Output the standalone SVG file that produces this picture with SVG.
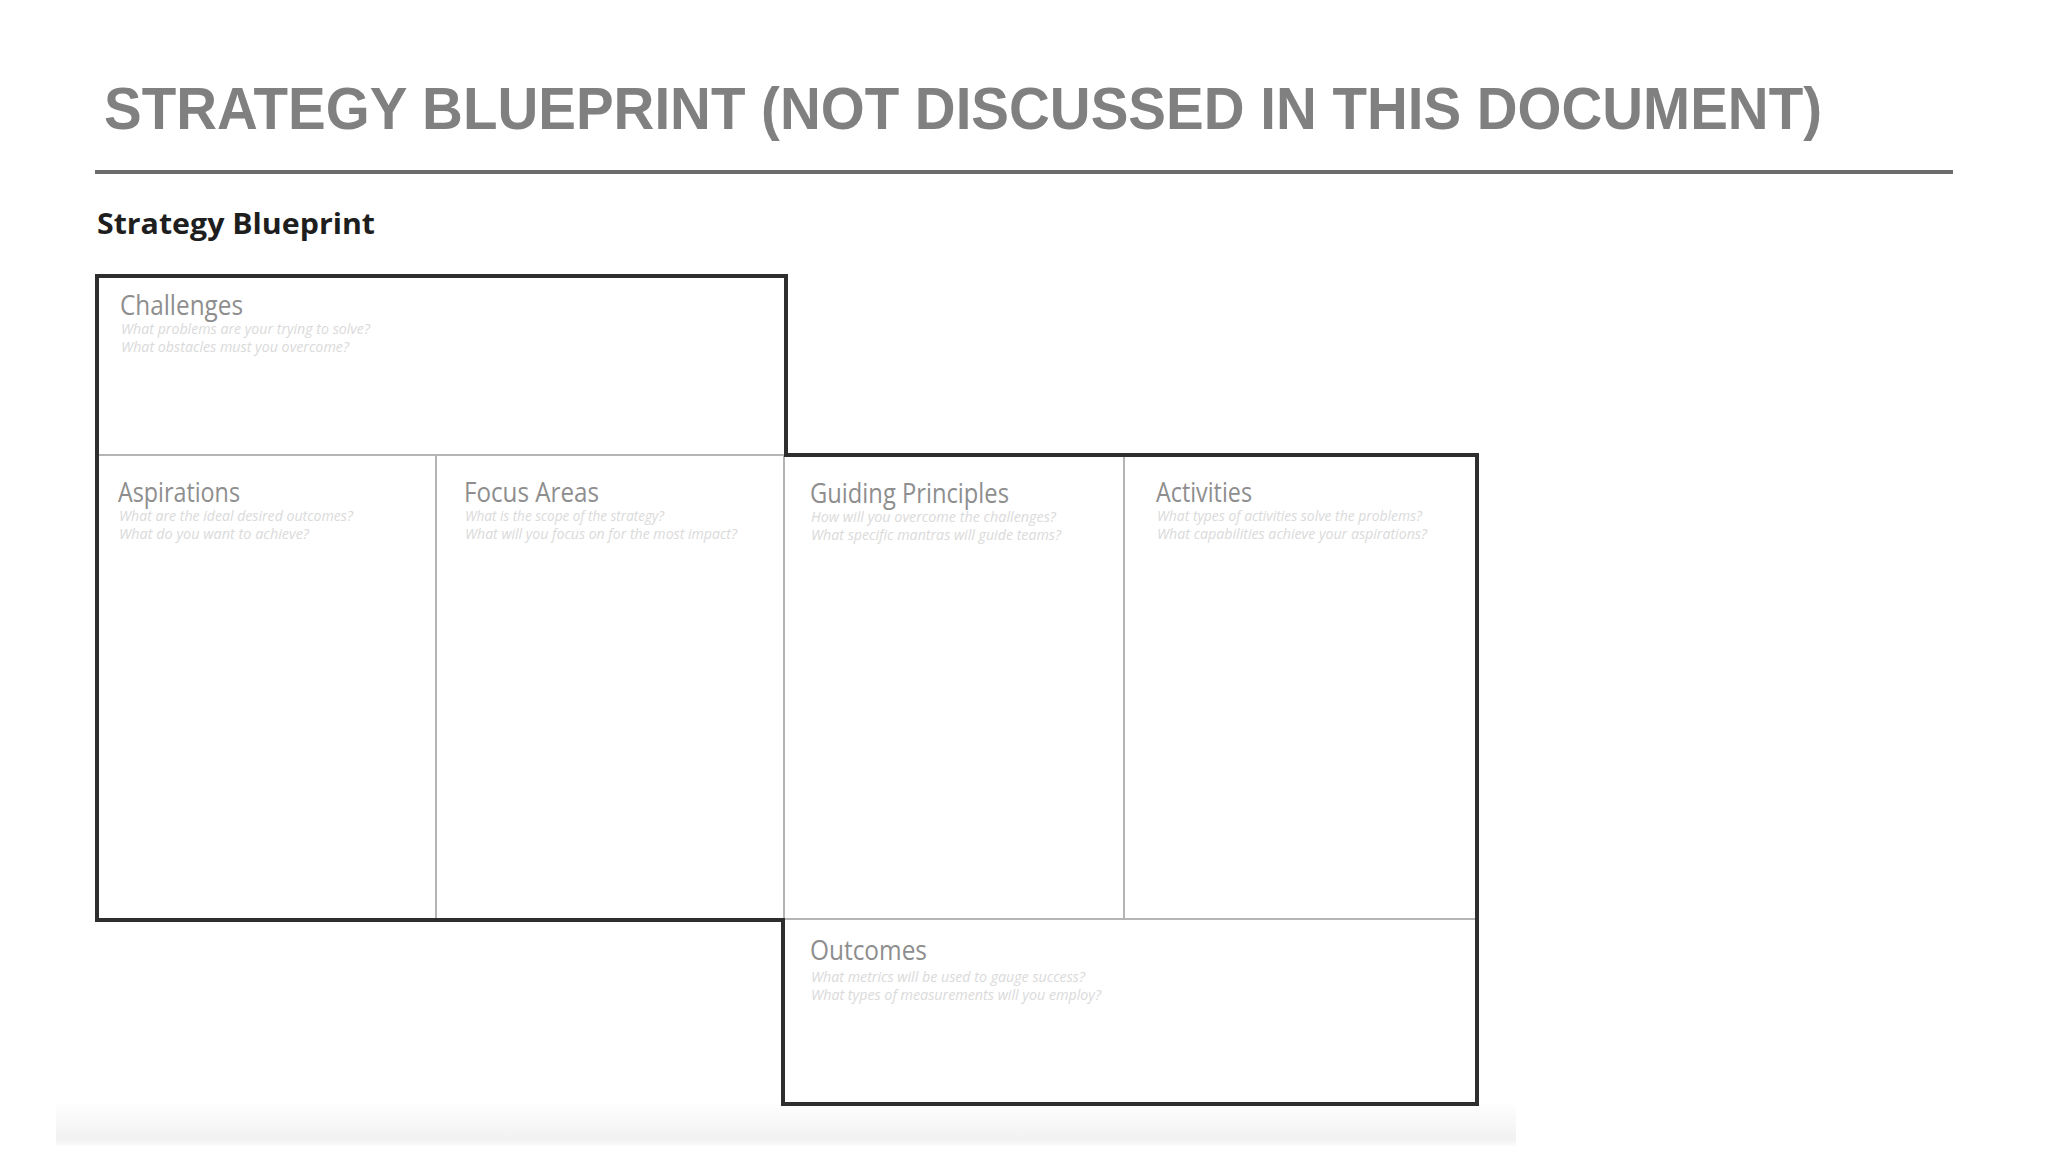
<svg xmlns="http://www.w3.org/2000/svg" width="2048" height="1152" viewBox="0 0 2048 1152">
  <style>
    .title { font-family: "Liberation Sans", Arial, sans-serif; font-weight: bold; font-size: 60px; fill: #808080; }
    .sub { font-family: "Open Sans", "Liberation Sans", sans-serif; font-weight: bold; font-size: 28px; fill: #1e1e1e; }
    .lbl { font-family: "Open Sans", "Liberation Sans", sans-serif; font-size: 28px; fill: #8e8e8e; }
    .q { font-family: "Open Sans", "Liberation Sans", sans-serif; font-style: italic; font-size: 14px; fill: #dadada; }
    .outline { fill: none; stroke: #2e2e2e; stroke-width: 4; stroke-linejoin: miter; }
    .div { stroke: #b4b4b4; stroke-width: 2; fill: none; }
  </style>
  <defs>
    <linearGradient id="band" x1="0" y1="0" x2="0" y2="1">
      <stop offset="0" stop-color="#ffffff"/>
      <stop offset="0.55" stop-color="#f7f7f7"/>
      <stop offset="0.85" stop-color="#f1f1f1"/>
      <stop offset="1" stop-color="#fcfcfc"/>
    </linearGradient>
  </defs>
  <rect x="0" y="0" width="2048" height="1152" fill="#ffffff"/>

  <g id="header">
    <text class="title" x="104" y="129" textLength="1718" lengthAdjust="spacingAndGlyphs">STRATEGY BLUEPRINT (NOT DISCUSSED IN THIS DOCUMENT)</text>
    <line x1="95" y1="172" x2="1953" y2="172" stroke="#6b6b6b" stroke-width="4"/>
    <text class="sub" x="97" y="234" textLength="278" lengthAdjust="spacingAndGlyphs">Strategy Blueprint</text>
  </g>

  <rect x="56" y="1100" width="1460" height="46" fill="url(#band)"/>

  <g id="connectors">
    <line class="div" x1="97" y1="455" x2="786" y2="455"/>
    <line class="div" x1="436" y1="455" x2="436" y2="920"/>
    <line class="div" x1="784" y1="455" x2="784" y2="920"/>
    <line class="div" x1="1124" y1="455" x2="1124" y2="920"/>
    <line class="div" x1="784" y1="919" x2="1477" y2="919"/>
    <path class="outline" d="M97,276 H786 V455 H1477 V1104 H783 V920 H97 Z"/>
  </g>

  <g id="challenges">
    <text class="lbl" x="120" y="315" textLength="123" lengthAdjust="spacingAndGlyphs">Challenges</text>
    <text class="q" x="121" y="334" textLength="249" lengthAdjust="spacingAndGlyphs">What problems are your trying to solve?</text>
    <text class="q" x="121" y="352" textLength="228" lengthAdjust="spacingAndGlyphs">What obstacles must you overcome?</text>
  </g>

  <g id="aspirations">
    <text class="lbl" x="118" y="502" textLength="122" lengthAdjust="spacingAndGlyphs">Aspirations</text>
    <text class="q" x="119" y="521" textLength="234" lengthAdjust="spacingAndGlyphs">What are the ideal desired outcomes?</text>
    <text class="q" x="119" y="539" textLength="190" lengthAdjust="spacingAndGlyphs">What do you want to achieve?</text>
  </g>

  <g id="focus-areas">
    <text class="lbl" x="464" y="502" textLength="135" lengthAdjust="spacingAndGlyphs">Focus Areas</text>
    <text class="q" x="465" y="521" textLength="199" lengthAdjust="spacingAndGlyphs">What is the scope of the strategy?</text>
    <text class="q" x="465" y="539" textLength="272" lengthAdjust="spacingAndGlyphs">What will you focus on for the most impact?</text>
  </g>

  <g id="guiding-principles">
    <text class="lbl" x="810" y="503" textLength="199" lengthAdjust="spacingAndGlyphs">Guiding Principles</text>
    <text class="q" x="811" y="522" textLength="245" lengthAdjust="spacingAndGlyphs">How will you overcome the challenges?</text>
    <text class="q" x="811" y="540" textLength="250" lengthAdjust="spacingAndGlyphs">What specific mantras will guide teams?</text>
  </g>

  <g id="activities">
    <text class="lbl" x="1156" y="502" textLength="96" lengthAdjust="spacingAndGlyphs">Activities</text>
    <text class="q" x="1157" y="521" textLength="265" lengthAdjust="spacingAndGlyphs">What types of activities solve the problems?</text>
    <text class="q" x="1157" y="539" textLength="270" lengthAdjust="spacingAndGlyphs">What capabilities achieve your aspirations?</text>
  </g>

  <g id="outcomes">
    <text class="lbl" x="810" y="960" textLength="117" lengthAdjust="spacingAndGlyphs">Outcomes</text>
    <text class="q" x="811" y="982" textLength="274" lengthAdjust="spacingAndGlyphs">What metrics will be used to gauge success?</text>
    <text class="q" x="811" y="1000" textLength="290" lengthAdjust="spacingAndGlyphs">What types of measurements will you employ?</text>
  </g>
</svg>
